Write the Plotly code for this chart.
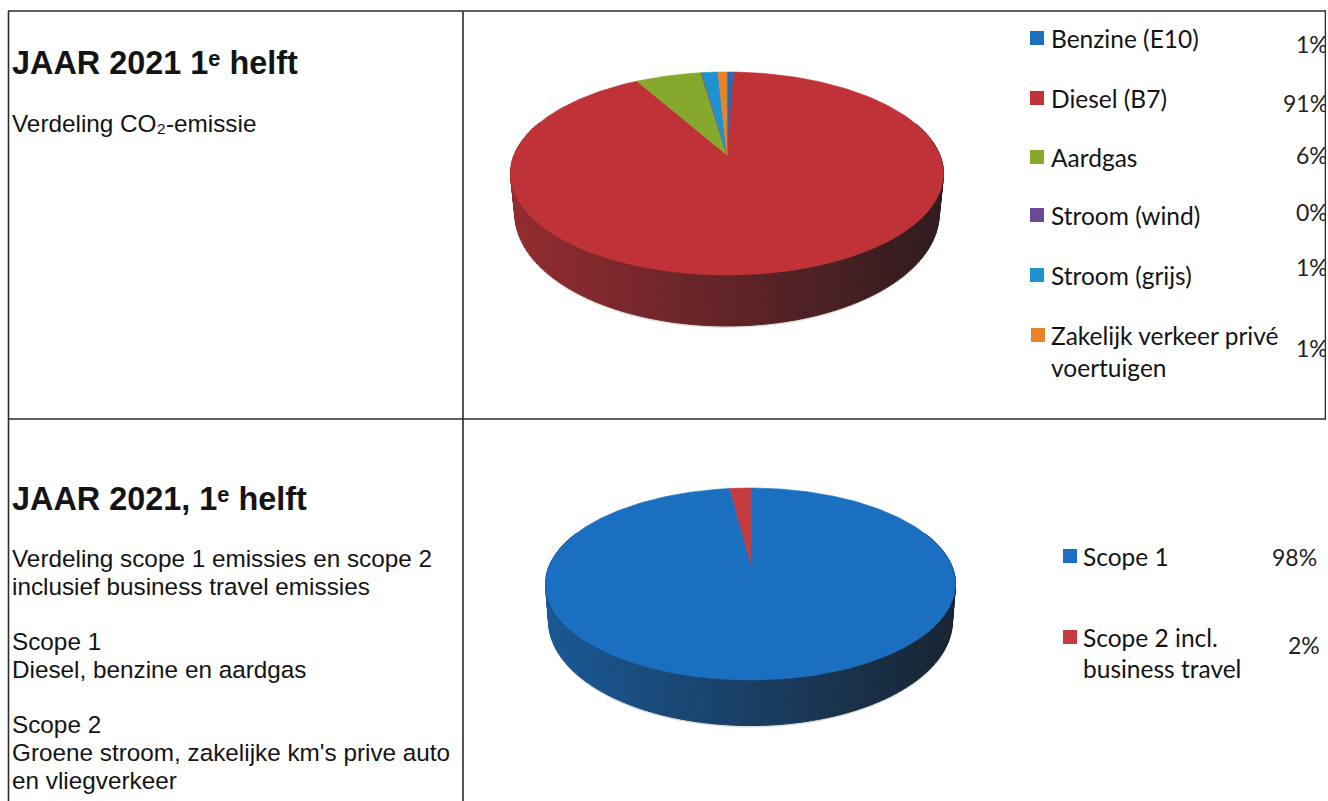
import math
import plotly.graph_objects as go

# ---------- data ----------
fuel_labels = ["Benzine (E10)", "Diesel (B7)", "Aardgas", "Stroom (wind)", "Stroom (grijs)",
               "Zakelijk verkeer privé<br>voertuigen"]
fuel_printed_pct = [1, 91, 6, 0, 1, 1]
fuel_shares = [0.6, 91.25, 5.85, 0.1, 1.4, 0.8]
fuel_colors = ["#1b6fbd", "#bf3338", "#86a82c", "#6a4a96", "#1f93cf", "#ea8227"]

scope_labels = ["Scope 1", "Scope 2 incl.<br>business travel"]
scope_printed_pct = [98, 2]
scope_shares = [98, 2]
scope_colors = ["#1a6fc0", "#c63b3f"]

title_top = "JAAR 2021 1ᵉ helft"
text_top = ["Verdeling CO₂-emissie"]
title_bottom = "JAAR 2021, 1ᵉ helft"
text_bottom = ["Verdeling scope 1 emissies en scope 2", "inclusief business travel emissies",
               "Scope 1", "Diesel, benzine en aardgas", "Scope 2",
               "Groene stroom, zakelijke km's prive auto", "en vliegverkeer"]

# ---------- layout geometry (page pixels) ----------
W, H = 1328, 801
RIGHT = 1326
PIE_TOP = dict(cx=727.0, apex=155.0, half_w=216.5, far=83.0, near=120.0,
               sx=0.98, sy=1.108, dyc=38.0)
PIE_BOTTOM = dict(cx=750.5, apex=563.0, half_w=205.0, far=75.0, near=117.0,
                  sx=0.985, sy=1.09, dyc=35.0)
DARK = (24, 24, 26)


def projector(p):
    r = p["near"] / p["far"]
    k = (r - 1) / (r + 1)
    B = p["far"] * (1 + k)
    A = p["half_w"] * math.sqrt(1 - k * k)

    def top(theta):
        u, v = math.sin(theta), math.cos(theta)
        d = 1 + k * v
        return p["cx"] + A * u / d, p["apex"] - B * v / d

    def bottom(theta):
        x, y = top(theta)
        return p["cx"] + (x - p["cx"]) * p["sx"], p["apex"] + p["dyc"] + (y - p["apex"]) * p["sy"]

    return top, bottom


def shade(color, f):
    rgb = [int(color[i:i + 2], 16) for i in (1, 3, 5)]
    return "rgb(%d,%d,%d)" % tuple(round(c * f + d * (1 - f)) for c, d in zip(rgb, DARK))


def add_pie(fig, labels, shares, colors, p):
    top, bottom = projector(p)
    total = sum(shares)
    # soft shadow under the disc rim
    ths = [2 * math.pi * i / 180 for i in range(181)]
    pts = [bottom(t) for t in ths]
    fig.add_trace(go.Scatter(x=[q[0] for q in pts], y=[q[1] + 2 for q in pts], mode="lines",
                             line=dict(color="rgba(0,0,0,0)", width=0), fill="toself",
                             fillcolor="#dcdcdc", hoverinfo="skip", showlegend=False))
    start = 0.0
    spans = []
    for lab, s, c in zip(labels, shares, colors):
        end = start + s / total * 2 * math.pi
        spans.append((lab.replace("<br>", " "), s, c, start, end))
        start = end
    # rim: strips along the visible front, shaded from left (light) to right (dark)
    for lab, s, c, a0, a1 in spans:
        n = max(1, int((a1 - a0) / (2 * math.pi) * 180))
        for i in range(n):
            t0 = a0 + (a1 - a0) * i / n
            t1 = a0 + (a1 - a0) * (i + 1) / n
            tm = (t0 + t1) / 2
            if math.cos(tm) > 0.35:
                continue
            xrel = (top(tm)[0] - p["cx"]) / p["half_w"]
            f = 0.44 - 0.30 * xrel
            col = shade(c, f)
            a, b = top(t0), top(t1)
            d, e = bottom(t1), bottom(t0)
            fig.add_trace(go.Scatter(x=[a[0], b[0], d[0], e[0], a[0]],
                                     y=[a[1], b[1], d[1], e[1], a[1]],
                                     mode="lines", line=dict(color=col, width=1), fill="toself",
                                     fillcolor=col, hoverinfo="skip", showlegend=False))
    # top face: one wedge per slice, apex at the projected pie centre
    for lab, s, c, a0, a1 in spans:
        n = max(2, int((a1 - a0) / (2 * math.pi) * 360))
        arc = [top(a0 + (a1 - a0) * i / n) for i in range(n + 1)]
        xs = [p["cx"]] + [q[0] for q in arc] + [p["cx"]]
        ys = [p["apex"]] + [q[1] for q in arc] + [p["apex"]]
        fig.add_trace(go.Scatter(x=xs, y=ys, mode="lines", name=lab,
                                 line=dict(color=c, width=0.6), fill="toself", fillcolor=c,
                                 text=f"{lab}: {s}%", hoverinfo="text", showlegend=False))


fig = go.Figure()
add_pie(fig, fuel_labels, fuel_shares, fuel_colors, PIE_TOP)
add_pie(fig, scope_labels, scope_shares, scope_colors, PIE_BOTTOM)

# ---------- legend swatches ----------
fuel_swatch_x = [1037, 1037, 1037, 1037, 1037, 1038]
fuel_row_y = [38, 98, 157, 215, 275, 335]
scope_swatch_x = [1070, 1070]
scope_row_y = [556, 637]
fig.add_trace(go.Scatter(x=fuel_swatch_x + scope_swatch_x, y=fuel_row_y + scope_row_y, mode="markers",
                         marker=dict(symbol="square", size=14, color=fuel_colors + scope_colors,
                                     line=dict(width=0)),
                         hoverinfo="skip", showlegend=False))

# ---------- printed percentages, tight against the table's right edge ----------
fuel_pct_x = [1296, 1283, 1296, 1296, 1296, 1296]
fuel_pct_y = [47, 106, 158, 215, 270, 351]
scope_pct_x = [1272, 1288]
scope_pct_y = [560, 648]
fig.add_trace(go.Scatter(x=fuel_pct_x + scope_pct_x, y=fuel_pct_y + scope_pct_y, mode="text",
                         text=[f"{v}%" for v in fuel_printed_pct + scope_printed_pct],
                         textposition="middle right", cliponaxis=True,
                         textfont=dict(family="Lato", size=23, color="#222222"),
                         hoverinfo="skip", showlegend=False))

annotations = []


def note(x, y, text, family, size, bold=False):
    t = f"<b>{text}</b>" if bold else text
    annotations.append(dict(x=x, y=y, xref="x", yref="y", text=t, showarrow=False, xanchor="left",
                            yanchor="middle", align="left",
                            font=dict(family=family, size=size, color="#141414")))


note(9.5, 63, title_top, "Liberation Sans", 32.4, bold=True)
note(9.5, 123, text_top[0], "Liberation Sans", 24.3)
note(9.5, 499, title_bottom, "Liberation Sans", 32.4, bold=True)
for y, t in zip([558, 586, 641, 669, 724, 752, 780], text_bottom):
    note(9.5, y, t, "Liberation Sans", 24.3)

for y, t in zip(fuel_row_y, fuel_labels[:5]):
    note(1049, y, t, "Lato", 24.5)
zak_first, zak_second = fuel_labels[5].split("<br>")
note(1049, fuel_row_y[5], zak_first, "Lato", 24.5)
note(1049, 367, zak_second, "Lato", 24.5)
note(1081, scope_row_y[0], scope_labels[0], "Lato", 24.5)
sc_first, sc_second = scope_labels[1].split("<br>")
note(1081, scope_row_y[1], sc_first, "Lato", 24.5)
note(1081, 668, sc_second, "Lato", 24.5)

line = dict(color="#2b2b2b", width=1.6)
shapes = []
for x0, y0, x1, y1 in [(8, 11, RIGHT, 11), (8, 419, RIGHT, 419), (8.5, 11, 8.5, H),
                       (463, 11, 463, H), (RIGHT - 0.5, 11, RIGHT - 0.5, 419)]:
    shapes.append(dict(type="line", xref="x", yref="y", x0=x0, y0=y0, x1=x1, y1=y1, line=line, layer="above"))

fig.update_layout(width=W, height=H, margin=dict(l=0, r=0, t=0, b=0), paper_bgcolor="white",
                  plot_bgcolor="white", showlegend=False, annotations=annotations, shapes=shapes,
                  xaxis=dict(range=[0, RIGHT], domain=[0, RIGHT / W], visible=False, fixedrange=True),
                  yaxis=dict(range=[H, 0], domain=[0, 1], visible=False, fixedrange=True))

fig.write_html("out.html", config={"displayModeBar": False},
               post_script="document.body.style.margin='0';document.body.style.overflow='hidden';")
